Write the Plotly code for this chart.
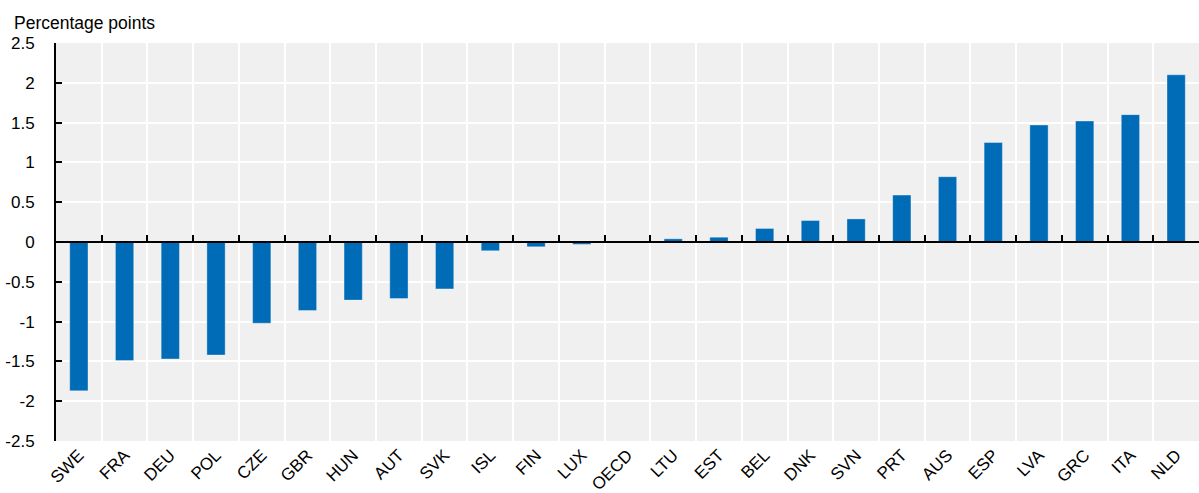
import plotly.graph_objects as go

countries = ["SWE", "FRA", "DEU", "POL", "CZE", "GBR", "HUN", "AUT", "SVK", "ISL",
             "FIN", "LUX", "OECD", "LTU", "EST", "BEL", "DNK", "SVN", "PRT", "AUS",
             "ESP", "LVA", "GRC", "ITA", "NLD"]
values = [-1.87, -1.49, -1.47, -1.42, -1.02, -0.86, -0.73, -0.71, -0.59, -0.11,
          -0.06, -0.03, 0.0, 0.04, 0.06, 0.17, 0.27, 0.29, 0.59, 0.82,
          1.25, 1.47, 1.52, 1.60, 2.10]
y_ticks = [2.5, 2, 1.5, 1, 0.5, 0, -0.5, -1, -1.5, -2, -2.5]
y_tick_labels = ["2.5", "2", "1.5", "1", "0.5", "0", "-0.5", "-1", "-1.5", "-2", "-2.5"]
y_title = "Percentage points"

BLUE = "#006BB6"
FONT = "Liberation Sans, Arial, sans-serif"

fig = go.Figure()
fig.add_trace(go.Bar(
    x=countries, y=values, width=0.4,
    marker=dict(color=BLUE, line=dict(color="rgba(255,255,255,0.35)", width=1)),
    showlegend=False, hoverinfo="x+y",
))
# invisible helper trace so the zero-line axis knows the categories
fig.add_trace(go.Scatter(
    x=countries, y=values, xaxis="x2", mode="markers",
    marker=dict(opacity=0), showlegend=False, hoverinfo="skip",
))

fig.update_layout(
    width=1199, height=493,
    margin=dict(l=56, r=0, t=43, b=52, autoexpand=False),
    paper_bgcolor="white", plot_bgcolor="#f0f0f0",
    font=dict(family=FONT, size=17, color="#000000"),
    xaxis=dict(
        type="category", categoryorder="array", categoryarray=countries,
        range=[-0.5, len(countries) - 0.5], automargin=False,
        tickson="boundaries", ticks="", showline=False,
        showgrid=True, gridcolor="white", gridwidth=1.5,
        tickangle=-45, tickfont=dict(size=17),
        zeroline=False,
    ),
    xaxis2=dict(
        type="category", categoryorder="array", categoryarray=countries,
        overlaying="x", anchor="free", position=0.5, matches="x",
        automargin=False,
        tickson="boundaries", ticks="inside", ticklen=6, tickwidth=1.5,
        tickcolor="black", showline=True, linecolor="black", linewidth=2,
        showticklabels=False, showgrid=False, zeroline=False,
    ),
    yaxis=dict(
        range=[-2.5, 2.5], tickvals=y_ticks, ticktext=y_tick_labels,
        automargin=False,
        ticks="inside", ticklen=6, tickwidth=1.5, tickcolor="black",
        showline=True, linecolor="black", linewidth=2,
        showgrid=True, gridcolor="white", gridwidth=1.5,
        zeroline=False, ticklabelstandoff=16,
        tickfont=dict(size=17),
    ),
    annotations=[dict(
        text=y_title, xref="paper", yref="paper", x=0, y=1,
        xanchor="left", yanchor="bottom", xshift=-44, yshift=8,
        showarrow=False, font=dict(size=17.5, family=FONT, color="#000000"),
    )],
)

fig.write_html(
    "out.html",
    config={"displayModeBar": False},
    post_script="document.body.style.margin='0';document.body.style.overflow='hidden';",
)
